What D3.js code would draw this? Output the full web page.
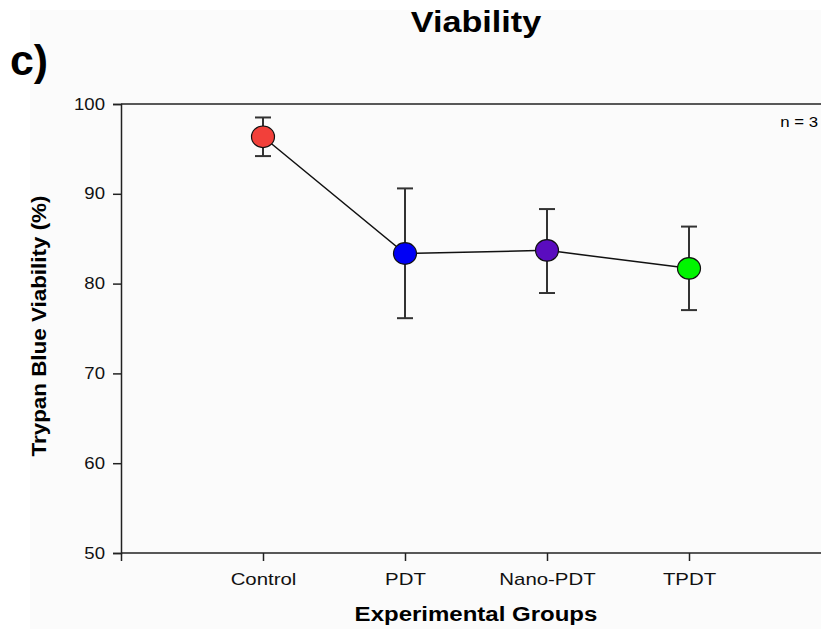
<!DOCTYPE html>
<html>
  <head>
    <title>Viability</title>
    <meta charset="utf-8">
    <script src="https://d3js.org/d3.v7.min.js"></script>
    <style>
      body { margin: 0; background: #ffffff; }
      svg { display: block; font-family: Arial, "Liberation Sans", sans-serif; }
    </style>
  </head>
  <body>
    <div class="chart"></div>

    <script>

    var groups = ["Control", "PDT", "Nano-PDT", "TPDT"];
    var viability = [96.35, 83.35, 83.7, 81.7];
    var errUpper = [98.5, 90.6, 88.3, 86.35];
    var errLower = [94.2, 76.15, 78.95, 77.05];
    var dotColors = ["#f2403a", "#0000f5", "#5a0cbf", "#00f500"];
    var yTicks = [50, 60, 70, 80, 90, 100];

    var width = 821, height = 629;
    var margin = {top: 104, left: 121, bottom: 76};

    // the source figure's lettering is a bit wider than Arial, so stretch it
    function stretch(sel, k) {
      sel.each(function() {
        var w = this.getComputedTextLength();
        d3.select(this).attr("textLength", w * k).attr("lengthAdjust", "spacingAndGlyphs");
      });
    }

    var svg = d3.select(".chart").append("svg")
      .attr("width", width)
      .attr("height", height);

    svg.append("rect")
      .attr("x", 30).attr("y", 10)
      .attr("width", width - 30).attr("height", height - 10)
      .attr("fill", "#fbfbfb");

    // categories sit at 1..4 on a 0..5 axis that runs past the right edge
    var xScale = d3.scaleLinear().domain([0, 5]).range([margin.left, margin.left + 5 * 142]);
    var yScale = d3.scaleLinear().domain([50, 100]).range([height - margin.bottom, margin.top]);

    // top frame line
    svg.append("line")
      .attr("x1", margin.left).attr("x2", width)
      .attr("y1", yScale(100)).attr("y2", yScale(100))
      .attr("stroke", "#222").attr("stroke-width", 1.5);

    // y axis
    var yAxis = svg.append("g")
      .attr("transform", "translate(" + margin.left + ",0)")
      .call(d3.axisLeft(yScale).tickValues(yTicks).tickSize(8).tickPadding(8));
    yAxis.selectAll("text")
      .attr("font-size", "16px").attr("fill", "#111")
      .attr("font-family", "Arial, 'Liberation Sans', sans-serif")
      .call(stretch, 1.16);

    // x axis
    var xAxis = svg.append("g")
      .attr("transform", "translate(0," + yScale(50) + ")")
      .call(d3.axisBottom(xScale).tickValues([0, 1, 2, 3, 4, 5]).tickSize(8).tickPadding(12)
        .tickFormat(function(d) { return groups[d - 1] || ""; }));
    xAxis.selectAll("text")
      .attr("font-size", "17px").attr("fill", "#111")
      .attr("font-family", "Arial, 'Liberation Sans', sans-serif")
      .call(stretch, 1.2);
    xAxis.select(".domain").attr("d", "M" + margin.left + ",0H" + width);

    svg.selectAll(".domain, .tick line").attr("stroke", "#222").attr("stroke-width", 1.5);

    var idx = d3.range(groups.length);

    // connecting line
    svg.append("path")
      .datum(idx)
      .attr("fill", "none")
      .attr("stroke", "#111")
      .attr("stroke-width", 1.5)
      .attr("d", d3.line()
        .x(function(i) { return xScale(i + 1); })
        .y(function(i) { return yScale(viability[i]); }));

    // error bars
    var eb = svg.selectAll(".err").data(idx).enter().append("g")
      .attr("class", "err")
      .attr("stroke", "#333")
      .attr("stroke-width", 2);
    eb.append("line")
      .attr("x1", function(i) { return xScale(i + 1); })
      .attr("x2", function(i) { return xScale(i + 1); })
      .attr("y1", function(i) { return yScale(errUpper[i]); })
      .attr("y2", function(i) { return yScale(errLower[i]); });
    eb.append("line")
      .attr("x1", function(i) { return xScale(i + 1) - 8; })
      .attr("x2", function(i) { return xScale(i + 1) + 8; })
      .attr("y1", function(i) { return yScale(errUpper[i]); })
      .attr("y2", function(i) { return yScale(errUpper[i]); });
    eb.append("line")
      .attr("x1", function(i) { return xScale(i + 1) - 8; })
      .attr("x2", function(i) { return xScale(i + 1) + 8; })
      .attr("y1", function(i) { return yScale(errLower[i]); })
      .attr("y2", function(i) { return yScale(errLower[i]); });

    // points
    svg.selectAll(".dot").data(idx).enter().append("ellipse")
      .attr("class", "dot")
      .attr("cx", function(i) { return xScale(i + 1); })
      .attr("cy", function(i) { return yScale(viability[i]); })
      .attr("rx", 11.5).attr("ry", 10.8)
      .attr("fill", function(i) { return dotColors[i]; })
      .attr("stroke", "#111")
      .attr("stroke-width", 1.2);

    // texts
    svg.append("text")
      .attr("x", 476).attr("y", 32)
      .attr("text-anchor", "middle")
      .attr("font-size", "30px").attr("font-weight", "bold")
      .text("Viability")
      .call(stretch, 1.14);

    svg.append("text")
      .attr("x", 10).attr("y", 75)
      .attr("font-size", "42px").attr("font-weight", "bold")
      .text("c)")
      .call(stretch, 1.02);

    svg.append("text")
      .attr("x", 818).attr("y", 127)
      .attr("text-anchor", "end")
      .attr("font-size", "15px")
      .text("n = 3")
      .call(stretch, 1.12);

    svg.append("text")
      .attr("x", 476).attr("y", 621)
      .attr("text-anchor", "middle")
      .attr("font-size", "20px").attr("font-weight", "bold")
      .text("Experimental Groups")
      .call(stretch, 1.2);

    svg.append("text")
      .attr("transform", "translate(46,326) rotate(-90)")
      .attr("text-anchor", "middle")
      .attr("font-size", "20px").attr("font-weight", "bold")
      .text("Trypan Blue Viability (%)")
      .call(stretch, 1.12);

    </script>
  </body>
</html>
